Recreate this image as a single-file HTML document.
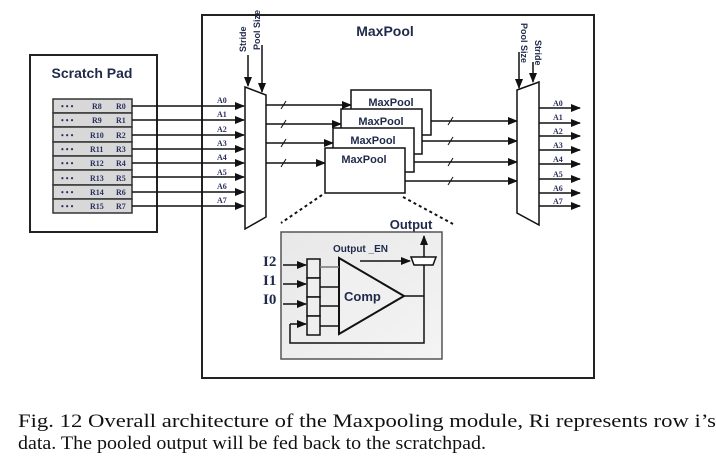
<!DOCTYPE html>
<html><head><style>body{margin:0;background:#fff}svg{display:block}</style></head><body>
<svg width="716" height="463" viewBox="0 0 716 463" xmlns="http://www.w3.org/2000/svg" font-family="Liberation Sans, sans-serif">
<defs>
<marker id="a" markerWidth="10" markerHeight="8" refX="9" refY="4" orient="auto" markerUnits="userSpaceOnUse"><path d="M0,0 L10,4 L0,8z" fill="#111"/></marker>
<linearGradient id="g" x1="0" y1="0" x2="1" y2="1"><stop offset="0" stop-color="#e8e8e8"/><stop offset="1" stop-color="#f4f4f4"/></linearGradient>
</defs>
<g stroke="#222" stroke-width="2" fill="none">
<rect x="202" y="15" width="392" height="363"/>
<rect x="30" y="55" width="127" height="177"/>
</g>
<text x="92" y="78" font-size="14" font-weight="bold" fill="#1f2a4a" text-anchor="middle">Scratch Pad</text>
<text x="385" y="36" font-size="14" font-weight="bold" fill="#1f2a4a" text-anchor="middle">MaxPool</text>
<g font-family="Liberation Serif, serif" font-size="8" font-weight="bold" fill="#2a3060">
<g stroke="#333" stroke-width="1.5" fill="#d8d8d8">
<rect x="53" y="99" width="79" height="14"/><rect x="53" y="113" width="79" height="14"/><rect x="53" y="127" width="79" height="15"/><rect x="53" y="142" width="79" height="14"/>
<rect x="53" y="156" width="79" height="14"/><rect x="53" y="170" width="79" height="15"/><rect x="53" y="185" width="79" height="14"/><rect x="53" y="199" width="79" height="14"/>
</g>
<text x="61" y="109">• • •</text><text x="92" y="109">R8</text><text x="116" y="109">R0</text>
<text x="61" y="123">• • •</text><text x="92" y="123">R9</text><text x="116" y="123">R1</text>
<text x="61" y="138">• • •</text><text x="90" y="138">R10</text><text x="116" y="138">R2</text>
<text x="61" y="152">• • •</text><text x="90" y="152">R11</text><text x="116" y="152">R3</text>
<text x="61" y="166">• • •</text><text x="90" y="166">R12</text><text x="116" y="166">R4</text>
<text x="61" y="181">• • •</text><text x="90" y="181">R13</text><text x="116" y="181">R5</text>
<text x="61" y="195">• • •</text><text x="90" y="195">R14</text><text x="116" y="195">R6</text>
<text x="61" y="209">• • •</text><text x="90" y="209">R15</text><text x="116" y="209">R7</text>
<text x="217" y="103">A0</text><text x="217" y="117">A1</text><text x="217" y="132">A2</text><text x="217" y="146">A3</text>
<text x="217" y="160">A4</text><text x="217" y="175">A5</text><text x="217" y="189">A6</text><text x="217" y="203">A7</text>
<text x="553" y="106">A0</text><text x="553" y="120">A1</text><text x="553" y="134">A2</text><text x="553" y="148">A3</text>
<text x="553" y="162">A4</text><text x="553" y="177">A5</text><text x="553" y="191">A6</text><text x="553" y="204">A7</text>
</g>
<g stroke="#111" stroke-width="1.5" marker-end="url(#a)">
<line x1="132" y1="106" x2="244" y2="106"/><line x1="132" y1="120" x2="244" y2="120"/><line x1="132" y1="135" x2="244" y2="135"/><line x1="132" y1="149" x2="244" y2="149"/>
<line x1="132" y1="163" x2="244" y2="163"/><line x1="132" y1="177" x2="244" y2="177"/><line x1="132" y1="192" x2="244" y2="192"/><line x1="132" y1="206" x2="244" y2="206"/>
<line x1="539" y1="108" x2="580" y2="108"/><line x1="539" y1="123" x2="580" y2="123"/><line x1="539" y1="136" x2="580" y2="136"/><line x1="539" y1="150" x2="580" y2="150"/>
<line x1="539" y1="164" x2="580" y2="164"/><line x1="539" y1="179" x2="580" y2="179"/><line x1="539" y1="193" x2="580" y2="193"/><line x1="539" y1="206" x2="580" y2="206"/>
<line x1="248" y1="55" x2="248" y2="86"/><line x1="262" y1="45" x2="262" y2="92"/>
<line x1="519" y1="52" x2="519" y2="88"/><line x1="533" y1="62" x2="533" y2="82"/>
<line x1="266" y1="105" x2="351" y2="105"/><line x1="266" y1="124" x2="341" y2="124"/><line x1="266" y1="143" x2="333" y2="143"/><line x1="266" y1="163" x2="325" y2="163"/>
<line x1="431" y1="121" x2="517" y2="121"/><line x1="422" y1="141" x2="517" y2="141"/><line x1="414" y1="162" x2="517" y2="162"/><line x1="405" y1="181" x2="517" y2="181"/>
</g>
<g stroke="#111" stroke-width="1.5" fill="#fff">
<path d="M245,87 L266,95 L266,217 L245,229z"/>
<path d="M517,90 L539,82 L539,225 L517,213z"/>
<rect x="351" y="90" width="80" height="45"/>
<rect x="341" y="109" width="81" height="45"/>
<rect x="333" y="128" width="81" height="44"/>
<rect x="325" y="148" width="80" height="45"/>
</g>
<g stroke="#111" stroke-width="1">
<line x1="281" y1="109" x2="286" y2="101"/><line x1="281" y1="128" x2="286" y2="120"/><line x1="281" y1="147" x2="286" y2="139"/><line x1="281" y1="167" x2="286" y2="159"/>
<line x1="448" y1="125" x2="453" y2="117"/><line x1="448" y1="145" x2="453" y2="137"/><line x1="448" y1="166" x2="453" y2="158"/><line x1="448" y1="185" x2="453" y2="177"/>
</g>
<g font-size="11" font-weight="bold" fill="#1f2a4a" text-anchor="middle">
<text x="391" y="106">MaxPool</text><text x="381" y="125">MaxPool</text><text x="373" y="144">MaxPool</text><text x="364" y="163">MaxPool</text>
</g>
<g font-size="9" font-weight="bold" fill="#1f2a4a">
<text transform="translate(246,52) rotate(-90)">Stride</text>
<text transform="translate(260,50) rotate(-90)">Pool Size</text>
<text transform="translate(521,23) rotate(90)">Pool Size</text>
<text transform="translate(535,40) rotate(90)">Stride</text>
</g>
<g stroke="#111" stroke-width="2" stroke-dasharray="3,3">
<line x1="322" y1="195" x2="281" y2="223"/><line x1="403" y1="197" x2="453" y2="224"/>
</g>
<rect x="281" y="232" width="161" height="127" fill="url(#g)" stroke="#555" stroke-width="1.5"/>
<text x="411" y="229" font-size="13" font-weight="bold" fill="#1f2a4a" text-anchor="middle">Output</text>
<text x="333" y="252" font-size="10" font-weight="bold" fill="#1f2a4a">Output _EN</text>
<g font-family="Liberation Serif, serif" font-size="15" font-weight="bold" fill="#1f2a4a">
<text x="263" y="266">I2</text><text x="263" y="285">I1</text><text x="263" y="304">I0</text>
</g>
<g stroke="#111" stroke-width="1.5" fill="none">
<path d="M339,258 L404,296 L339,334z" stroke-width="2" fill="#f0f0f0"/>
<rect x="307" y="259" width="13" height="19" fill="#eee"/><rect x="307" y="278" width="13" height="19" fill="#eee"/><rect x="307" y="297" width="13" height="19" fill="#eee"/><rect x="307" y="316" width="13" height="19" fill="#eee"/>
<line x1="320" y1="267" x2="339" y2="267" stroke="#777"/><line x1="320" y1="287" x2="339" y2="287"/><line x1="320" y1="306" x2="339" y2="306"/><line x1="320" y1="326" x2="339" y2="326"/>
<path d="M404,296 L424,296 M424,265 L424,343 L290,343 L290,324"/>
<path d="M411,257 L436,257 L433,265 L414,265z" fill="#fff"/>
</g>
<text x="344" y="301" font-size="13" font-weight="bold" fill="#1f2a4a">Comp</text>
<g stroke="#111" stroke-width="1.5" marker-end="url(#a)">
<line x1="283" y1="265" x2="306" y2="265"/><line x1="283" y1="284" x2="306" y2="284"/><line x1="283" y1="304" x2="306" y2="304"/><line x1="290" y1="324" x2="306" y2="324"/>
<line x1="360" y1="261" x2="410" y2="261"/><line x1="424" y1="257" x2="424" y2="236"/>
</g>
<g font-family="Liberation Serif, serif" font-size="19" fill="#111">
<text x="18" y="427" textLength="698" lengthAdjust="spacingAndGlyphs">Fig. 12 Overall architecture of the Maxpooling module, Ri represents row i’s</text>
<text x="18" y="449" textLength="468" lengthAdjust="spacingAndGlyphs">data. The pooled output will be fed back to the scratchpad.</text>
</g>
</svg>
</body></html>
